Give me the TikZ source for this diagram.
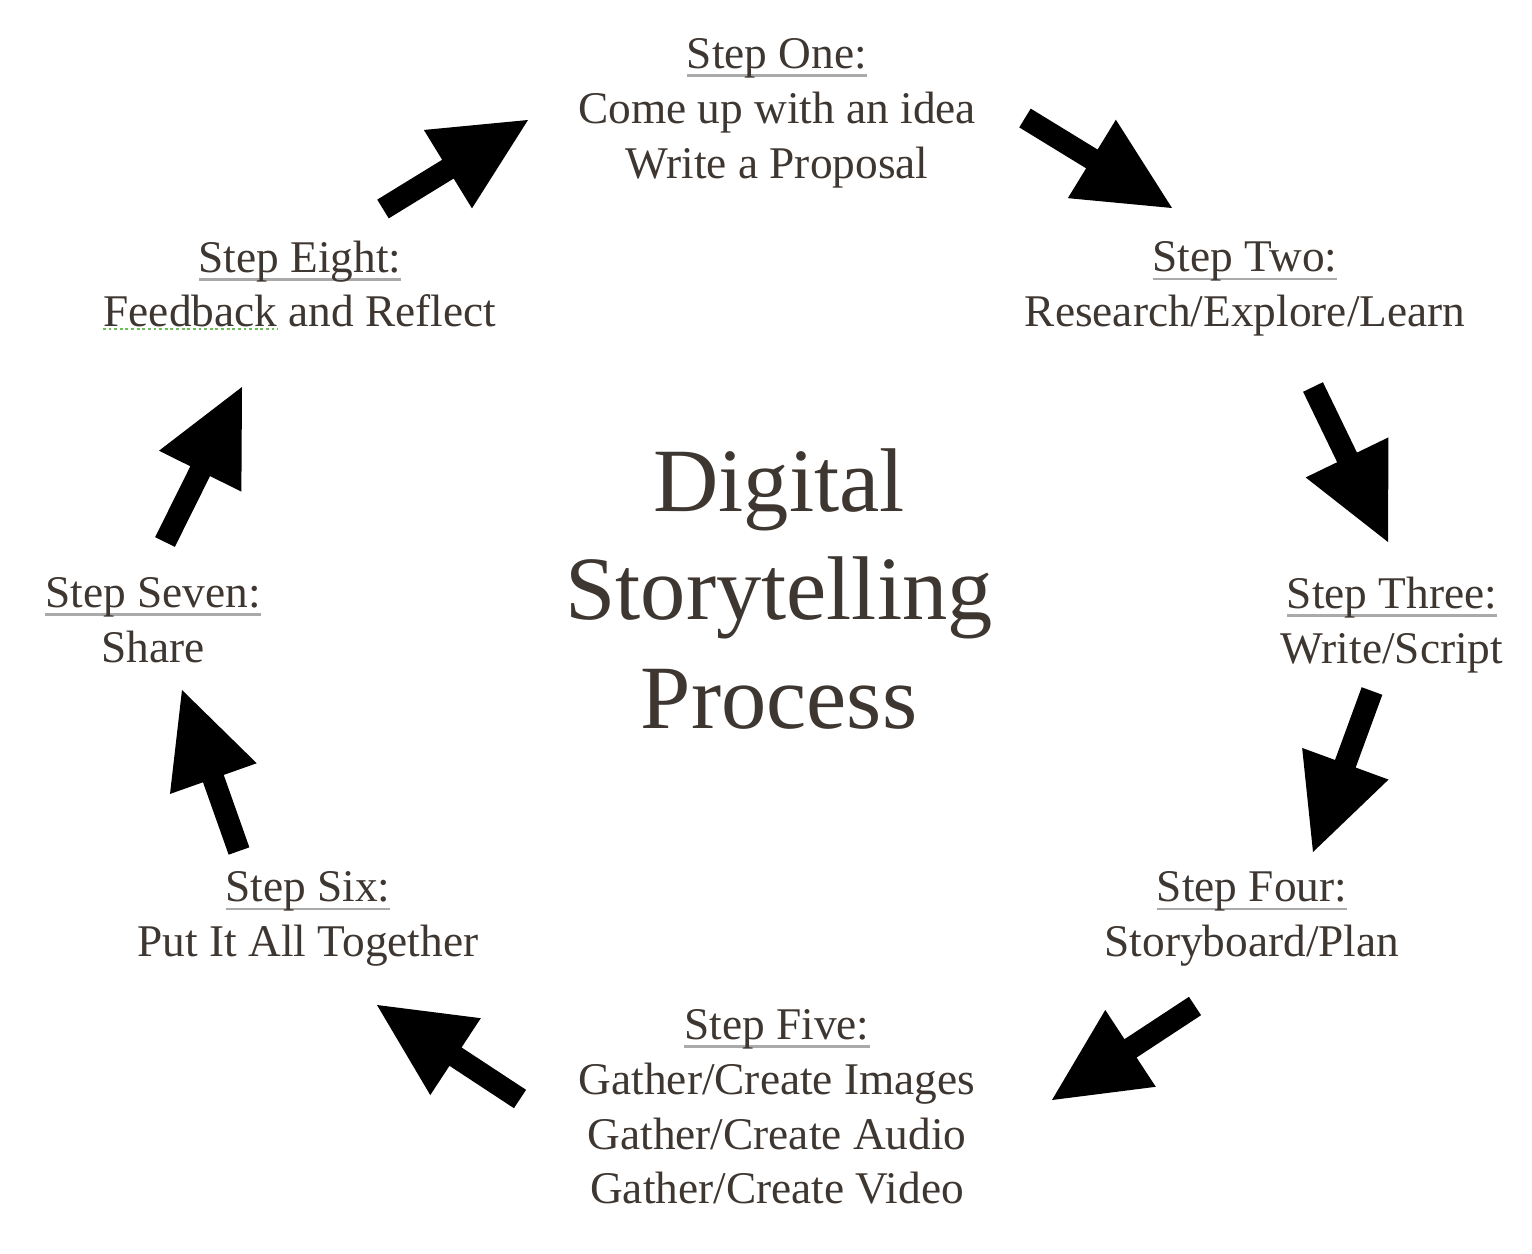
\documentclass[tikz,border=0pt]{standalone}
\usepackage{fontspec}
\setmainfont{Liberation Serif}
\usetikzlibrary{calc}
\definecolor{txt}{RGB}{62,54,48}
\definecolor{ulgray}{RGB}{170,170,170}
\definecolor{spellgreen}{RGB}{110,190,90}
\newcommand\stepul[1]{\setbox0\hbox{#1}\rlap{\color{ulgray}\rule[-4.8pt]{\wd0}{1.4pt}}\box0}
\newcommand\blockarrow[2]{%
  \path ($(#2)!1.88cm!(#1)$) coordinate (bb);
  \fill[arrowfill] ($(#1)!0.22cm!90:(#2)$) -- ($(bb)!0.22cm!90:(#2)$) -- ($(bb)!0.92cm!90:(#2)$) -- (#2)
    -- ($(bb)!0.92cm!-90:(#2)$) -- ($(bb)!0.22cm!-90:(#2)$) -- ($(#1)!0.22cm!-90:(#2)$) -- cycle;}
\tikzset{
  steptext/.style={align=center, text=txt, inner sep=0pt, font=\fontsize{25.8}{31.2}\selectfont},
  titletext/.style={align=center, text=txt, inner sep=0pt, font=\fontsize{51.5}{61.8}\selectfont},
  arrowfill/.style={fill=black},
}
\begin{document}
\begin{tikzpicture}[x=0.02cm,y=-0.02cm]
\useasboundingbox[fill=white] (0,0) rectangle (1532,1254);
% step nodes
\node[steptext] (s1) at (777,113) {\stepul{Step One:}\\Come up with an idea\\Write a Proposal};
\node[steptext] (s2) at (1245,289) {\stepul{Step Two:}\\Research/Explore/Learn};
\node[steptext] (s3) at (1392,625) {\stepul{Step Three:}\\Write/Script};
\node[steptext] (s4) at (1252,919) {\stepul{Step Four:}\\Storyboard/Plan};
\node[steptext] (s5) at (777,1107) {\stepul{Step Five:}\\Gather/Create Images\\Gather/Create Audio\\Gather/Create Video};
\node[steptext] (s6) at (308,919) {\stepul{Step Six:}\\Put It All Together};
\node[steptext] (s7) at (153,620) {\stepul{Step Seven:}\\Share};
\node[steptext] (s8) at (300,284) {\stepul{Step Eight:}\\Feedback and Reflect};
\node[titletext] (title) at (779,589) {Digital\\Storytelling\\Process};
% spell-check mark
\draw[spellgreen, line width=1.6pt, dash pattern=on 1.6pt off 1.6pt] (103,329) -- (278,329);
% arrow end points
\coordinate (t12) at (1025,118); \coordinate (h12) at (1172,208);
\coordinate (t23) at (1313,387); \coordinate (h23) at (1388,542);
\coordinate (t34) at (1372,691); \coordinate (h34) at (1313,852);
\coordinate (t45) at (1195,1006); \coordinate (h45) at (1052,1100);
\coordinate (t56) at (520,1099); \coordinate (h56) at (377,1005);
\coordinate (t67) at (239,851); \coordinate (h67) at (182,690);
\coordinate (t78) at (165,542); \coordinate (h78) at (242,387);
\coordinate (t81) at (383,209); \coordinate (h81) at (528,120);
\blockarrow{t12}{h12}
\blockarrow{t23}{h23}
\blockarrow{t34}{h34}
\blockarrow{t45}{h45}
\blockarrow{t56}{h56}
\blockarrow{t67}{h67}
\blockarrow{t78}{h78}
\blockarrow{t81}{h81}
\end{tikzpicture}
\end{document}
